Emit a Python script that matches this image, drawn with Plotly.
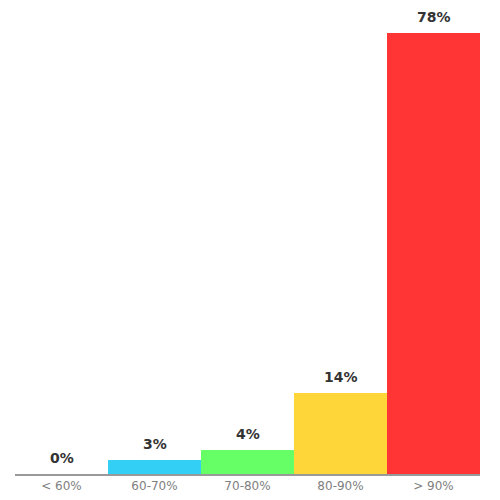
import plotly.graph_objects as go

# score buckets and share of results (%)
categories = ["< 60%", "60-70%", "70-80%", "80-90%", "> 90%"]
shares = [0, 2.5, 4.3, 14.4, 78.2]
bar_colors = ["#999999", "#33cff5", "#66ff66", "#ffd63a", "#ff3535"]

fig = go.Figure()
fig.add_trace(go.Bar(
    x=categories,
    y=shares,
    marker=dict(color=bar_colors, line=dict(width=0)),
    width=1,
    hoverinfo="skip",
))

# value labels above each bar
for cat, v in zip(categories, shares):
    fig.add_annotation(
        x=cat, y=v, text=f"<b>{round(v + 0.01)}%</b>",
        showarrow=False, yanchor="bottom", yshift=6,
        font=dict(family="DejaVu Sans", size=14, color="#333333"),
    )

fig.update_layout(
    width=500, height=500,
    margin=dict(l=7, r=28, t=25, b=34),
    paper_bgcolor="white",
    plot_bgcolor="white",
    showlegend=False,
    bargap=0,
    font=dict(family="DejaVu Sans"),
)
fig.update_xaxes(
    showline=True, linecolor="#999999", linewidth=2,
    ticks="", tickfont=dict(size=12, color="#808080"),
    showgrid=False,
)
fig.update_yaxes(
    visible=False, range=[0, max(shares)], showgrid=False,
)

fig.write_html("out.html")
